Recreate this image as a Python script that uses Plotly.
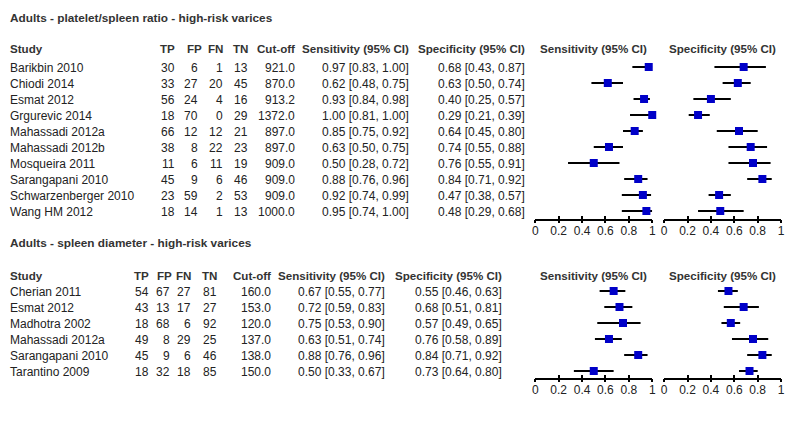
import plotly.graph_objects as go

W, H = 796, 436

# ---------------- Data: section 1 ----------------
title1 = "Adults - platelet/spleen ratio - high-risk varices"
studies1 = ["Barikbin 2010", "Chiodi 2014", "Esmat 2012", "Grgurevic 2014", "Mahassadi 2012a",
            "Mahassadi 2012b", "Mosqueira 2011", "Sarangapani 2010", "Schwarzenberger 2010", "Wang HM 2012"]
tp1 = [30, 33, 56, 18, 66, 38, 11, 45, 23, 18]
fp1 = [6, 27, 24, 70, 12, 8, 6, 9, 59, 14]
fn1 = [1, 20, 4, 0, 12, 22, 11, 6, 2, 1]
tn1 = [13, 45, 16, 29, 21, 23, 19, 46, 53, 13]
cut1 = [921.0, 870.0, 913.2, 1372.0, 897.0, 897.0, 909.0, 909.0, 909.0, 1000.0]
sens1 = [0.97, 0.62, 0.93, 1.00, 0.85, 0.63, 0.50, 0.88, 0.92, 0.95]
sens1_lo = [0.83, 0.48, 0.84, 0.81, 0.75, 0.50, 0.28, 0.76, 0.74, 0.74]
sens1_hi = [1.00, 0.75, 0.98, 1.00, 0.92, 0.75, 0.72, 0.96, 0.99, 1.00]
spec1 = [0.68, 0.63, 0.40, 0.29, 0.64, 0.74, 0.76, 0.84, 0.47, 0.48]
spec1_lo = [0.43, 0.50, 0.25, 0.21, 0.45, 0.55, 0.55, 0.71, 0.38, 0.29]
spec1_hi = [0.87, 0.74, 0.57, 0.39, 0.80, 0.88, 0.91, 0.92, 0.57, 0.68]

# ---------------- Data: section 2 ----------------
title2 = "Adults - spleen diameter - high-risk varices"
studies2 = ["Cherian 2011", "Esmat 2012", "Madhotra 2002", "Mahassadi 2012a", "Sarangapani 2010", "Tarantino 2009"]
tp2 = [54, 43, 18, 49, 45, 18]
fp2 = [67, 13, 68, 8, 9, 32]
fn2 = [27, 17, 6, 29, 6, 18]
tn2 = [81, 27, 92, 25, 46, 85]
cut2 = [160.0, 153.0, 120.0, 137.0, 138.0, 150.0]
sens2 = [0.67, 0.72, 0.75, 0.63, 0.88, 0.50]
sens2_lo = [0.55, 0.59, 0.53, 0.51, 0.76, 0.33]
sens2_hi = [0.77, 0.83, 0.90, 0.74, 0.96, 0.67]
spec2 = [0.55, 0.68, 0.57, 0.76, 0.84, 0.73]
spec2_lo = [0.46, 0.51, 0.49, 0.58, 0.71, 0.64]
spec2_hi = [0.63, 0.81, 0.65, 0.89, 0.92, 0.80]

tick_vals = [0, 0.2, 0.4, 0.6, 0.8, 1]
tick_text = ["0", "0.2", "0.4", "0.6", "0.8", "1"]

FONT = "Liberation Sans, Arial, sans-serif"
TXT = "#222222"
HDR = "#333333"
BLUE = "#0000C8"
BOLD_SIZE = 11.6
PAD = 3  # annotation text box inner padding (px)

fig = go.Figure()
annotations = []


def add_text(text, x, y, anchor="right", bold=False, color=TXT, size=None):
    if anchor == "left":
        x -= PAD
    elif anchor == "right":
        x += PAD
    annotations.append(dict(
        text=f"<b>{text}</b>" if bold else text,
        x=x / W, y=1 - y / H, xref="paper", yref="paper",
        xanchor=anchor, yanchor="middle", showarrow=False,
        font=dict(family=FONT, size=size or (BOLD_SIZE if bold else 12), color=color), borderpad=0,
    ))


def section(title, studies, tp, fp, fn, tn, cut, sens, slo, shi, spec, plo, phi,
            title_y, head_y, row0, cols, hdr_cols):
    add_text(title, 9, title_y, anchor="left", bold=True, color=HDR, size=11.8)
    add_text("Study", 9, head_y, anchor="left", bold=True, color=HDR)
    names = ["TP", "FP", "FN", "TN", "Cut-off", "Sensitivity (95% CI)", "Specificity (95% CI)"]
    for nm, cx in zip(names, hdr_cols):
        add_text(nm, cx, head_y, bold=True, color=HDR)
    for i, s in enumerate(studies):
        y = row0 + 16 * i + 1
        add_text(s, 9, y, anchor="left")
        vals = [str(tp[i]), str(fp[i]), str(fn[i]), str(tn[i]), f"{cut[i]:.1f}",
                f"{sens[i]:.2f} [{slo[i]:.2f}, {shi[i]:.2f}]",
                f"{spec[i]:.2f} [{plo[i]:.2f}, {phi[i]:.2f}]"]
        for v, cx in zip(vals, cols):
            add_text(v, cx, y)


section(title1, studies1, tp1, fp1, fn1, tn1, cut1, sens1, sens1_lo, sens1_hi,
        spec1, spec1_lo, spec1_hi, 18, 48, 67,
        [172, 195, 220, 245, 293, 408, 525],
        [172, 199, 220, 245, 293, 408, 525])
section(title2, studies2, tp2, fp2, fn2, tn2, cut2, sens2, sens2_lo, sens2_hi,
        spec2, spec2_lo, spec2_hi, 243, 275, 291,
        [145, 166, 188, 214, 268, 383, 501],
        [145, 169, 188, 214, 268, 383, 501])

# forest plot headers
for cx, hy, nm in [(596, 48, "Sensitivity (95% CI)"), (726, 48, "Specificity (95% CI)"),
                   (596, 275, "Sensitivity (95% CI)"), (726, 275, "Specificity (95% CI)")]:
    add_text(nm, cx, hy, anchor="center", bold=True, color=HDR)

# forest plots
panels = [
    (sens1, sens1_lo, sens1_hi, 1),
    (spec1, spec1_lo, spec1_hi, 2),
    (sens2, sens2_lo, sens2_hi, 3),
    (spec2, spec2_lo, spec2_hi, 4),
]
for est, lo, hi, k in panels:
    sfx = "" if k == 1 else str(k)
    fig.add_trace(go.Scatter(
        x=est, y=list(range(len(est))), mode="markers",
        marker=dict(symbol="square", size=8, color=BLUE, line=dict(width=0)),
        error_x=dict(type="data", symmetric=False,
                     array=[h - e for e, h in zip(est, hi)],
                     arrayminus=[e - l for e, l in zip(est, lo)],
                     color="black", thickness=2, width=0),
        xaxis="x" + sfx, yaxis="y" + sfx, cliponaxis=False, hoverinfo="skip",
        showlegend=False,
    ))
    # empty helper trace so the overlay tick axis is rendered
    fig.add_trace(go.Scatter(
        x=[None], y=[None], mode="markers", xaxis="x" + str(k + 4), yaxis="y" + sfx,
        showlegend=False, hoverinfo="skip",
    ))

xdom_sens = [537 / W, 655 / W]
xdom_spec = [667 / W, 785 / W]
ydom1 = [1 - 219 / H, 1 - 59 / H]
ydom2 = [1 - 378 / H, 1 - 283 / H]

layout_axes = {}
specs = [(1, xdom_sens, ydom1, [9.5, -0.5]), (2, xdom_spec, ydom1, [9.5, -0.5]),
         (3, xdom_sens, ydom2, [5.4375, -0.5]), (4, xdom_spec, ydom2, [5.4375, -0.5])]
for k, xd, yd, yr in specs:
    sfx = "" if k == 1 else str(k)
    layout_axes["xaxis" + sfx] = dict(
        domain=xd, range=[0, 1], anchor="y" + sfx, showgrid=False, zeroline=False,
        showline=True, linecolor="black", linewidth=1.5,
        ticks="inside", ticklen=3, tickwidth=1.5, tickcolor="black",
        tickvals=tick_vals, ticktext=tick_text,
        tickfont=dict(family=FONT, size=12, color=TXT), fixedrange=True,
    )
    layout_axes["yaxis" + sfx] = dict(
        domain=yd, range=yr, visible=False, showgrid=False, zeroline=False, fixedrange=True,
    )
    # overlay axis drawing the lower half of the crossing tick marks
    layout_axes["xaxis" + str(k + 4)] = dict(
        overlaying="x" + sfx, anchor="y" + sfx, side="bottom", range=[0, 1],
        showgrid=False, zeroline=False, showline=False,
        ticks="outside", ticklen=3, tickwidth=1.5, tickcolor="black",
        tickvals=tick_vals, showticklabels=False, fixedrange=True,
    )

fig.update_layout(
    width=W, height=H, margin=dict(l=0, r=0, t=0, b=0),
    paper_bgcolor="white", plot_bgcolor="white",
    annotations=annotations, **layout_axes,
)

fig.write_html("out.html", config={"displayModeBar": False},
               post_script="document.body.style.margin='0';document.body.style.overflow='hidden';")
